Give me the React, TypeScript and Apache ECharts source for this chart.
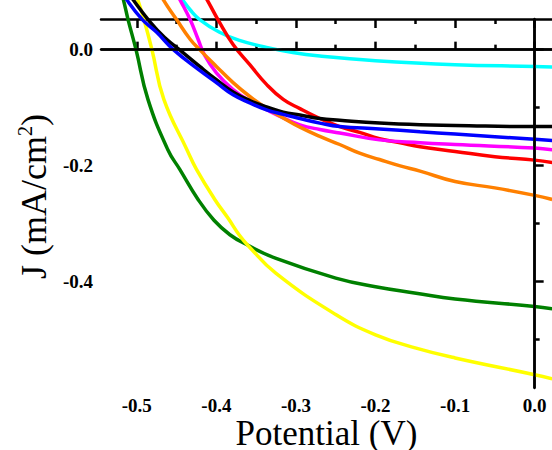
import React, { useEffect, useRef } from "react";
import * as echarts from "echarts";

// Axis ranges and ticks
const X_MIN = -0.545;
const X_MAX = 0.0218;
const Y_MIN = -0.585;
const Y_MAX = 0.053;
const X_MAJOR = [-0.5, -0.4, -0.3, -0.2, -0.1, 0];
const X_MINOR = [-0.45, -0.35, -0.25, -0.15, -0.05];
const Y_MAJOR = [0, -0.2, -0.4];
const Y_MINOR = [-0.1, -0.3, -0.5];

// Curves: [potential (V), J (mA/cm2)]
const BLACK: [number, number][] = [
  [-0.511, 0.1], [-0.505, 0.087], [-0.484, 0.049], [-0.465, 0.021], [-0.442, -0.005],
  [-0.421, -0.029], [-0.4, -0.052], [-0.379, -0.073], [-0.358, -0.088], [-0.337, -0.099],
  [-0.316, -0.108], [-0.295, -0.113], [-0.27, -0.119], [-0.245, -0.122], [-0.195, -0.127],
  [-0.144, -0.13], [-0.1, -0.131], [0, -0.133], [0.022, -0.133],
];
const BLUE: [number, number][] = [
  [-0.518, 0.1], [-0.513, 0.087], [-0.493, 0.052], [-0.475, 0.03], [-0.454, 0.0],
  [-0.421, -0.036], [-0.4, -0.057], [-0.379, -0.078], [-0.358, -0.092], [-0.337, -0.104],
  [-0.316, -0.112], [-0.295, -0.119], [-0.27, -0.127], [-0.245, -0.133], [-0.195, -0.137],
  [-0.144, -0.142], [-0.1, -0.146], [0, -0.155], [0.022, -0.157],
];
const RED: [number, number][] = [
  [-0.418, 0.1], [-0.412, 0.087], [-0.398, 0.052], [-0.379, 0.009], [-0.358, -0.026],
  [-0.337, -0.06], [-0.316, -0.086], [-0.295, -0.102], [-0.27, -0.119], [-0.245, -0.133],
  [-0.22, -0.143], [-0.195, -0.154], [-0.169, -0.161], [-0.144, -0.168], [-0.1, -0.176],
  [-0.05, -0.185], [0, -0.191], [0.022, -0.195],
];
const MAGENTA: [number, number][] = [
  [-0.451, 0.1], [-0.446, 0.087], [-0.433, 0.052], [-0.423, 0.018], [-0.415, -0.009],
  [-0.4, -0.04], [-0.379, -0.069], [-0.358, -0.089], [-0.337, -0.104], [-0.316, -0.118],
  [-0.295, -0.13], [-0.27, -0.138], [-0.245, -0.144], [-0.195, -0.156], [-0.144, -0.161],
  [-0.1, -0.164], [0, -0.17], [0.022, -0.173],
];
const ORANGE: [number, number][] = [
  [-0.471, 0.1], [-0.467, 0.087], [-0.45, 0.052], [-0.433, 0.018], [-0.421, 0.0],
  [-0.4, -0.029], [-0.379, -0.057], [-0.358, -0.081], [-0.337, -0.101], [-0.316, -0.118],
  [-0.295, -0.134], [-0.27, -0.15], [-0.245, -0.164], [-0.22, -0.179], [-0.195, -0.19],
  [-0.169, -0.201], [-0.144, -0.21], [-0.1, -0.228], [-0.05, -0.239], [0, -0.252],
  [0.022, -0.259],
];
const CYAN: [number, number][] = [
  [-0.451, 0.1], [-0.443, 0.087], [-0.433, 0.069], [-0.421, 0.052], [-0.396, 0.03],
  [-0.371, 0.016], [-0.337, 0.004], [-0.304, -0.005], [-0.27, -0.011], [-0.2, -0.019],
  [-0.1, -0.026], [0, -0.029], [0.022, -0.03],
];
const GREEN: [number, number][] = [
  [-0.52, 0.1], [-0.517, 0.087], [-0.511, 0.052], [-0.501, 0.0], [-0.486, -0.086],
  [-0.461, -0.173], [-0.446, -0.207], [-0.423, -0.259], [-0.403, -0.295], [-0.383, -0.32],
  [-0.362, -0.337], [-0.325, -0.361], [-0.25, -0.395], [-0.2, -0.41], [-0.149, -0.421],
  [-0.1, -0.431], [0, -0.444], [0.022, -0.448],
];
const YELLOW: [number, number][] = [
  [-0.503, 0.1], [-0.499, 0.087], [-0.491, 0.052], [-0.481, 0.0], [-0.466, -0.086],
  [-0.437, -0.173], [-0.425, -0.207], [-0.402, -0.259], [-0.385, -0.292], [-0.371, -0.321],
  [-0.36, -0.339], [-0.325, -0.387], [-0.25, -0.458], [-0.2, -0.493], [-0.149, -0.516],
  [-0.1, -0.533], [0, -0.562], [0.022, -0.569],
];

const CURVES: { data: [number, number][]; color: string }[] = [
  { data: CYAN, color: "#00ffff" },
  { data: RED, color: "#ff0000" },
  { data: GREEN, color: "#008000" },
  { data: YELLOW, color: "#ffff00" },
  { data: MAGENTA, color: "#ff00ff" },
  { data: ORANGE, color: "#ff8000" },
  { data: BLACK, color: "#000000" },
  { data: BLUE, color: "#0000ff" },
];

const FONT = "'Liberation Serif', 'DejaVu Serif', serif";
const AXIS_W = 2.5;

export default function App() {
  const ref = useRef<HTMLDivElement>(null);
  useEffect(() => {
    if (!ref.current) return;
    const chart = echarts.init(ref.current, undefined, { renderer: "svg" });
    const lab = {
      fontFamily: FONT,
      fontWeight: "bold" as const,
      fontSize: 19,
      color: "#000",
      formatter: (v: number) => v.toFixed(1),
    };
    const xBase = { type: "value" as const, min: X_MIN, max: X_MAX, splitLine: { show: false } };
    const yBase = { type: "value" as const, min: Y_MIN, max: Y_MAX, splitLine: { show: false } };
    const line = { lineStyle: { color: "#000", width: AXIS_W } };
    chart.setOption({
      animation: false,
      backgroundColor: "#fff",
      grid: { left: 101, right: 0, top: 19, bottom: 62, containLabel: false, outerBoundsMode: "none" },
      xAxis: [
        {
          ...xBase,
          position: "bottom",
          axisLine: { show: true, ...line },
          axisTick: { show: true, inside: true, length: 8, customValues: X_MAJOR, lineStyle: { color: "#000", width: AXIS_W } },
          axisLabel: { ...lab, margin: 8, customValues: X_MAJOR },
          name: "Potential (V)",
          nameLocation: "middle",
          nameGap: 30,
          nameMoveOverlap: false,
          nameTextStyle: { fontFamily: FONT, fontSize: 35, lineHeight: 30, color: "#000" },
        },
        {
          ...xBase,
          position: "bottom",
          axisLine: { show: false },
          axisTick: { show: true, inside: true, length: 5, customValues: X_MINOR, lineStyle: { color: "#000", width: AXIS_W } },
          axisLabel: { show: false },
        },
        {
          ...xBase,
          position: "top",
          axisLine: { show: true, ...line },
          axisTick: { show: true, inside: true, length: 9, customValues: X_MAJOR, lineStyle: { color: "#000", width: AXIS_W } },
          axisLabel: { show: false },
        },
        {
          ...xBase,
          position: "top",
          axisLine: { show: false },
          axisTick: { show: true, inside: true, length: 5, customValues: X_MINOR, lineStyle: { color: "#000", width: AXIS_W } },
          axisLabel: { show: false },
        },
      ],
      yAxis: [
        {
          ...yBase,
          position: "left",
          axisLine: { show: true, ...line },
          axisTick: { show: true, inside: true, length: 9, customValues: Y_MAJOR, lineStyle: { color: "#000", width: AXIS_W } },
          axisLabel: { ...lab, margin: 8, customValues: Y_MAJOR },
          name: "{a|J (mA/cm}{s|2}{a|)}",
          nameLocation: "middle",
          nameGap: 46,
          nameRotate: 90,
          nameTextStyle: {
            fontFamily: FONT,
            fontSize: 36,
            color: "#000",
            padding: [0, 0, 0, 14],
            rich: {
              a: { fontFamily: FONT, fontSize: 36, color: "#000", lineHeight: 38 },
              s: { fontFamily: FONT, fontSize: 20, color: "#000", verticalAlign: "top", lineHeight: 20 },
            },
          },
        },
        {
          ...yBase,
          position: "left",
          axisLine: { show: false },
          axisTick: { show: true, inside: true, length: 5, customValues: Y_MINOR, lineStyle: { color: "#000", width: AXIS_W } },
          axisLabel: { show: false },
        },
      ],
      series: [
        {
          type: "line",
          data: [],
          z: 1,
          silent: true,
          markLine: {
            silent: true,
            symbol: ["none", "none"],
            label: { show: false },
            lineStyle: { color: "#000", width: AXIS_W, type: "solid" },
            data: [{ yAxis: 0 }],
            animation: false,
          },
        },
        ...CURVES.map((c) => ({
          type: "line",
          data: c.data,
          showSymbol: false,
          symbol: "none",
          smooth: 0.45,
          clip: false,
          silent: true,
          z: 3,
          lineStyle: { color: c.color, width: 3.5 },
        })),
        {
          type: "line",
          data: [],
          z: 5,
          silent: true,
          markLine: {
            silent: true,
            symbol: ["none", "none"],
            label: { show: false },
            lineStyle: { color: "#000", width: AXIS_W, type: "solid" },
            data: [{ xAxis: 0 }],
            animation: false,
          },
        },
      ],
    });
    return () => chart.dispose();
  }, []);
  return (
    <div
      ref={ref}
      style={{ position: "fixed", left: 0, top: 0, width: 552, height: 450, background: "#fff" }}
    />
  );
}
